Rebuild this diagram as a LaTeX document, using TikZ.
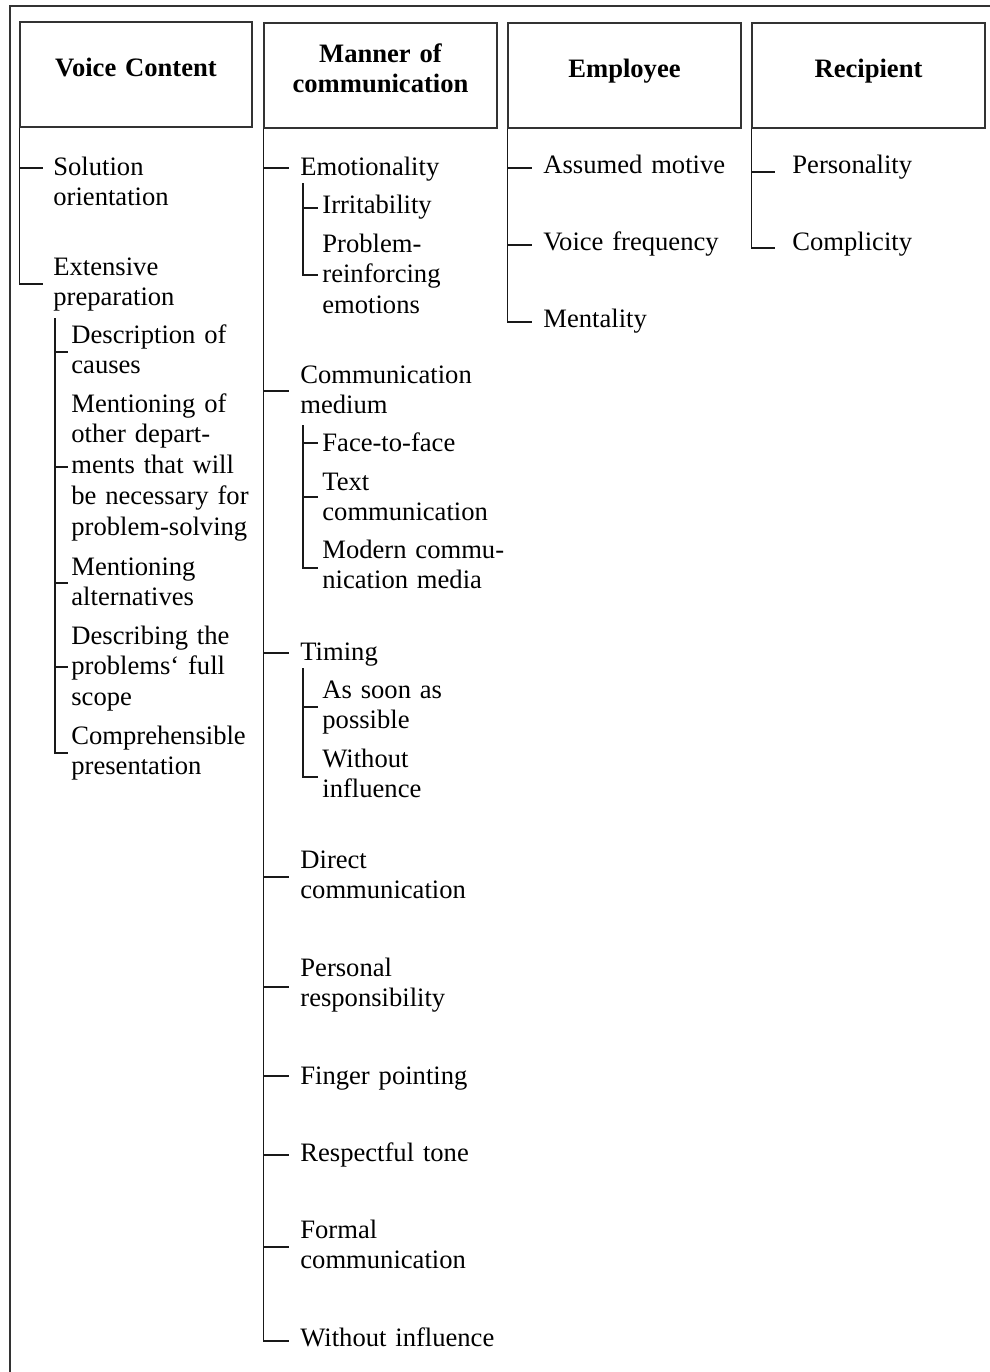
\documentclass[tikz,border=0pt]{standalone}
\usepackage{fontspec}
\setmainfont{Liberation Serif}
\begin{document}
\begin{tikzpicture}[x=0.5pt,y=-0.5pt,
  outerline/.style={line width=0.55pt, draw=black!80},
  catbox/.style={draw=black!80, line width=0.75pt, rectangle, inner sep=0pt, minimum height=52.5pt},
  cattitle/.style={anchor=base, inner sep=0pt, align=center, text width=115pt,
    font=\fontsize{13.3pt}{15.4pt}\selectfont\bfseries},
  leaf/.style={anchor=base west, inner sep=0pt, align=left, text width=125pt,
    font=\fontsize{13.3pt}{15.4pt}\selectfont},
  branch/.style={draw=black!90, line width=0.65pt},
]
\useasboundingbox (0,0) rectangle (990,1372);

% outer frame (open to the right and bottom)
\draw[outerline] (10,1372) -- (10,6) -- (990,6);

% ---------- category boxes ----------
\node[catbox, minimum width=116pt]   (h1) at (136,74.5)   {};
\node[catbox, minimum width=116.5pt] (h2) at (380.5,75.5) {};
\node[catbox, minimum width=116.5pt] (h3) at (624.5,75.5) {};
\node[catbox, minimum width=116.5pt] (h4) at (868.5,75.5) {};

\node[cattitle] (h1t) at (136,76)   {Voice Content};
\node[cattitle] (h2t) at (380.5,62) {Manner of\\communication};
\node[cattitle] (h3t) at (624.5,77) {Employee};
\node[cattitle] (h4t) at (868.5,77) {Recipient};

% ---------- Voice Content ----------
\node[leaf] (c1a) at (53,175) {Solution\\orientation};
\node[leaf] (c1b) at (53,275) {Extensive\\preparation};
\coordinate (c1a-t) at (43,168);
\coordinate (c1b-t) at (43,284);

\node[leaf] (s1) at (71,343) {Description of\\causes};
\node[leaf] (s2) at (71,412) {Mentioning of\\other depart-\\ments that will\\be necessary for\\problem-solving};
\node[leaf] (s3) at (71,575) {Mentioning\\alternatives};
\node[leaf] (s4) at (71,644) {Describing the\\problems‘ full\\scope};
\node[leaf] (s5) at (71,744) {Comprehensible\\presentation};
\coordinate (c1b-sub) at (55,318);
\coordinate (s1-t) at (68,352);
\coordinate (s2-t) at (68,467);
\coordinate (s3-t) at (68,583);
\coordinate (s4-t) at (68,667);
\coordinate (s5-t) at (68,753);

% ---------- Manner of communication ----------
\node[leaf] (m1) at (300,175)  {Emotionality};
\node[leaf] (m2) at (300,383)  {Communication\\medium};
\node[leaf] (m3) at (300,660)  {Timing};
\node[leaf] (m4) at (300,868)  {Direct\\communication};
\node[leaf] (m5) at (300,976)  {Personal\\responsibility};
\node[leaf] (m6) at (300,1084) {Finger pointing};
\node[leaf] (m7) at (300,1161) {Respectful tone};
\node[leaf] (m8) at (300,1238) {Formal\\communication};
\node[leaf] (m9) at (300,1346) {Without influence};
\coordinate (m1-t) at (289,168);
\coordinate (m2-t) at (289,391);
\coordinate (m3-t) at (289,653);
\coordinate (m4-t) at (289,877);
\coordinate (m5-t) at (289,987);
\coordinate (m6-t) at (289,1076);
\coordinate (m7-t) at (289,1155);
\coordinate (m8-t) at (289,1247);
\coordinate (m9-t) at (289,1341);

\node[leaf] (m1a) at (322,213) {Irritability};
\node[leaf] (m1b) at (322,252) {Problem-\\reinforcing\\emotions};
\coordinate (m1-sub) at (303,183);
\coordinate (m1a-t) at (318,208);
\coordinate (m1b-t) at (318,275);

\node[leaf] (m2a) at (322,451) {Face-to-face};
\node[leaf] (m2b) at (322,490) {Text\\communication};
\node[leaf] (m2c) at (322,558) {Modern commu-\\nication media};
\coordinate (m2-sub) at (303,425);
\coordinate (m2a-t) at (318,443);
\coordinate (m2b-t) at (318,497);
\coordinate (m2c-t) at (318,568);

\node[leaf] (m3a) at (322,698) {As soon as\\possible};
\node[leaf] (m3b) at (322,767) {Without\\influence};
\coordinate (m3-sub) at (303,668);
\coordinate (m3a-t) at (318,707);
\coordinate (m3b-t) at (318,777);

% ---------- Employee ----------
\node[leaf] (e1) at (543,173) {Assumed motive};
\node[leaf] (e2) at (543,250) {Voice frequency};
\node[leaf] (e3) at (543,327) {Mentality};
\coordinate (e1-t) at (532,168);
\coordinate (e2-t) at (532,245);
\coordinate (e3-t) at (532,322);

% ---------- Recipient ----------
\node[leaf] (r1) at (792,173) {Personality};
\node[leaf] (r2) at (792,250) {Complicity};
\coordinate (r1-t) at (775,172);
\coordinate (r2-t) at (775,248);

% ---------- tree connectors ----------
\foreach \t in {c1a-t,c1b-t}
  \draw[branch] (h1.south west) |- (\t);
\foreach \t in {s1-t,s2-t,s3-t,s4-t,s5-t}
  \draw[branch] (c1b-sub) |- (\t);
\foreach \t in {m1-t,m2-t,m3-t,m4-t,m5-t,m6-t,m7-t,m8-t,m9-t}
  \draw[branch] (h2.south west) |- (\t);
\foreach \t in {m1a-t,m1b-t}
  \draw[branch] (m1-sub) |- (\t);
\foreach \t in {m2a-t,m2b-t,m2c-t}
  \draw[branch] (m2-sub) |- (\t);
\foreach \t in {m3a-t,m3b-t}
  \draw[branch] (m3-sub) |- (\t);
\foreach \t in {e1-t,e2-t,e3-t}
  \draw[branch] (h3.south west) |- (\t);
\foreach \t in {r1-t,r2-t}
  \draw[branch] (h4.south west) |- (\t);
\end{tikzpicture}
\end{document}
